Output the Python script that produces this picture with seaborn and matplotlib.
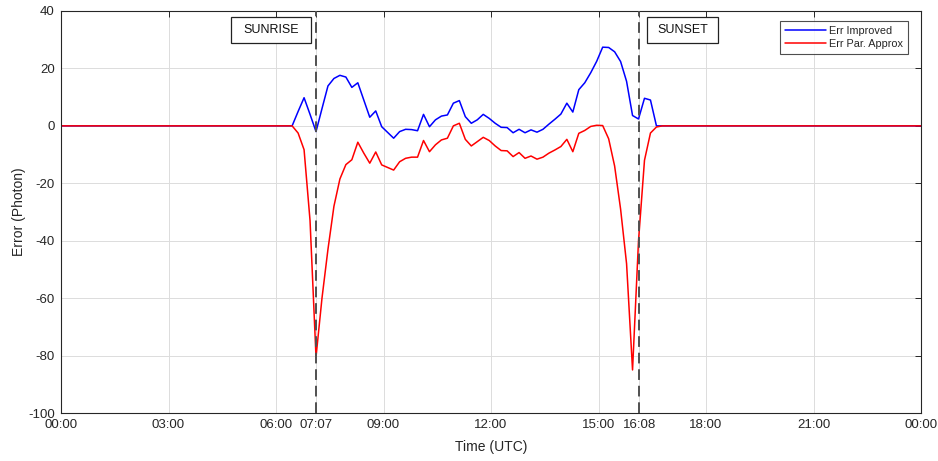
import matplotlib
matplotlib.use("Agg")
import matplotlib.pyplot as plt
from matplotlib.patches import Rectangle
import seaborn as sns
import pandas as pd

# ---- data -------------------------------------------------------------
times = ["00:00",
         "06:27", "06:37", "06:47", "06:57", "07:07", "07:17", "07:27", "07:37", "07:47", "07:57",
         "08:07", "08:17", "08:27", "08:37", "08:47", "08:57", "09:07", "09:17", "09:27", "09:37",
         "09:47", "09:57", "10:07", "10:17", "10:27", "10:37", "10:47", "10:57", "11:07", "11:17",
         "11:27", "11:37", "11:47", "11:57", "12:07", "12:17", "12:27", "12:37", "12:47", "12:57",
         "13:07", "13:17", "13:27", "13:37", "13:47", "13:57", "14:07", "14:17", "14:27", "14:37",
         "14:47", "14:57", "15:07", "15:17", "15:27", "15:37", "15:47", "15:57", "16:07", "16:17",
         "16:27", "16:37", "16:47",
         "24:00"]

err_improved = [0,
                0, 5.0, 9.8, 4.0, -2.0, 6.0, 13.9, 16.5, 17.6, 17.0,
                13.4, 15.0, 9.0, 3.0, 5.2, -0.3, -2.3, -4.3, -2.0, -1.2,
                -1.3, -1.7, 4.0, -0.3, 2.1, 3.4, 3.8, 7.9, 8.8, 3.2,
                0.9, 2.1, 4.0, 2.6, 0.9, -0.5, -0.6, -2.4, -1.2, -2.4,
                -1.4, -2.2, -1.2, 0.6, 2.3, 4.1, 7.9, 4.8, 12.6, 15.0,
                18.5, 22.5, 27.4, 27.3, 25.8, 22.4, 15.5, 3.6, 2.4, 9.6,
                9.0, 0.0, 0.0,
                0]

err_par_approx = [0,
                  0, -2.5, -8.3, -33.0, -80.5, -60.0, -43.0, -28.0, -18.5, -13.5,
                  -11.8, -5.7, -9.5, -13.0, -9.1, -13.6, -14.5, -15.4, -12.5, -11.3,
                  -10.9, -10.9, -5.1, -9.0, -6.6, -4.9, -4.3, 0.0, 0.9, -4.7,
                  -7.0, -5.5, -4.0, -5.1, -7.0, -8.6, -8.7, -10.7, -9.3, -11.3,
                  -10.5, -11.6, -10.9, -9.5, -8.4, -7.2, -4.7, -9.0, -2.6, -1.6,
                  -0.2, 0.2, 0.1, -4.5, -14.0, -29.0, -48.0, -85.0, -40.0, -12.0,
                  -2.5, -0.4, 0.0,
                  0]

series_names = ["Err Improved", "Err Par. Approx"]
series_colors = ["#0000ff", "#ff0000"]

tick_labels = ["00:00", "03:00", "06:00", "07:07", "09:00", "12:00",
               "15:00", "16:08", "18:00", "21:00", "00:00"]
tick_times = ["00:00", "03:00", "06:00", "07:07", "09:00", "12:00",
              "15:00", "16:08", "18:00", "21:00", "24:00"]
sunrise_time = "07:07"
sunset_time = "16:08"
y_ticks = [-100, -80, -60, -40, -20, 0, 20, 40]


def to_hours(s):
    h, m = s.split(":")
    return int(h) + int(m) / 60.0


hours = [to_hours(t) for t in times]
df = pd.DataFrame({
    "Time": hours * 2,
    "Error": err_improved + err_par_approx,
    "Series": [series_names[0]] * len(hours) + [series_names[1]] * len(hours),
})

# ---- plot -------------------------------------------------------------
sns.set_theme(style="white")
plt.rcParams["font.family"] = ["Liberation Sans", "DejaVu Sans"]
plt.rcParams["axes.unicode_minus"] = False

fig = plt.figure(figsize=(9.38, 4.61), dpi=100)
ax = fig.add_axes([61 / 938, 1 - 413 / 461, 860 / 938, 402 / 461])

sns.lineplot(data=df, x="Time", y="Error", hue="Series", hue_order=series_names,
             palette=series_colors, linewidth=1.1, ax=ax, legend=True, sort=False,
             estimator=None)

ax.set_xlim(0, 24)
ax.set_ylim(-100, 40)
ax.set_xticks([to_hours(t) for t in tick_times])
ax.set_xticklabels(tick_labels)
ax.set_yticks(y_ticks)
ax.grid(True, color="#dcdcdc", linewidth=0.7)
ax.set_axisbelow(True)

ax.tick_params(axis="both", which="both", direction="in", length=4, width=0.7,
               top=True, right=True, labelsize=9.5, labelcolor="#262626",
               color="#262626", pad=4.5)
for sp in ax.spines.values():
    sp.set_color("#262626")
    sp.set_linewidth(0.8)

ax.set_xlabel("Time (UTC)", fontsize=10, color="#262626", labelpad=6)
ax.set_ylabel("Error (Photon)", fontsize=10, color="#262626", labelpad=1.5)

for t in (sunrise_time, sunset_time):
    ax.axvline(to_hours(t), color="#505050", linestyle=(0, (5.5, 3)), linewidth=1.4, zorder=3)

# annotation boxes (hours / error units)
for x0, x1, label in ((4.745, 6.977, "SUNRISE"), (16.355, 18.337, "SUNSET")):
    ax.add_patch(Rectangle((x0, 28.9), x1 - x0, 9.0, facecolor="white",
                           edgecolor="#222222", linewidth=0.9, zorder=5))
    ax.text((x0 + x1) / 2, 33.4, label, ha="center", va="center", fontsize=9,
            color="#111111", zorder=6)

handles, labels = ax.get_legend_handles_labels()
leg = ax.legend(handles, labels, loc="upper right", bbox_to_anchor=(0.985, 0.975),
                fontsize=7.8, frameon=True, fancybox=False, edgecolor="#222222",
                handlelength=3.8, handletextpad=0.3, borderpad=0.45, labelspacing=0.3,
                borderaxespad=0.0)
leg.get_frame().set_linewidth(0.8)

fig.savefig("out.png", dpi=100)
